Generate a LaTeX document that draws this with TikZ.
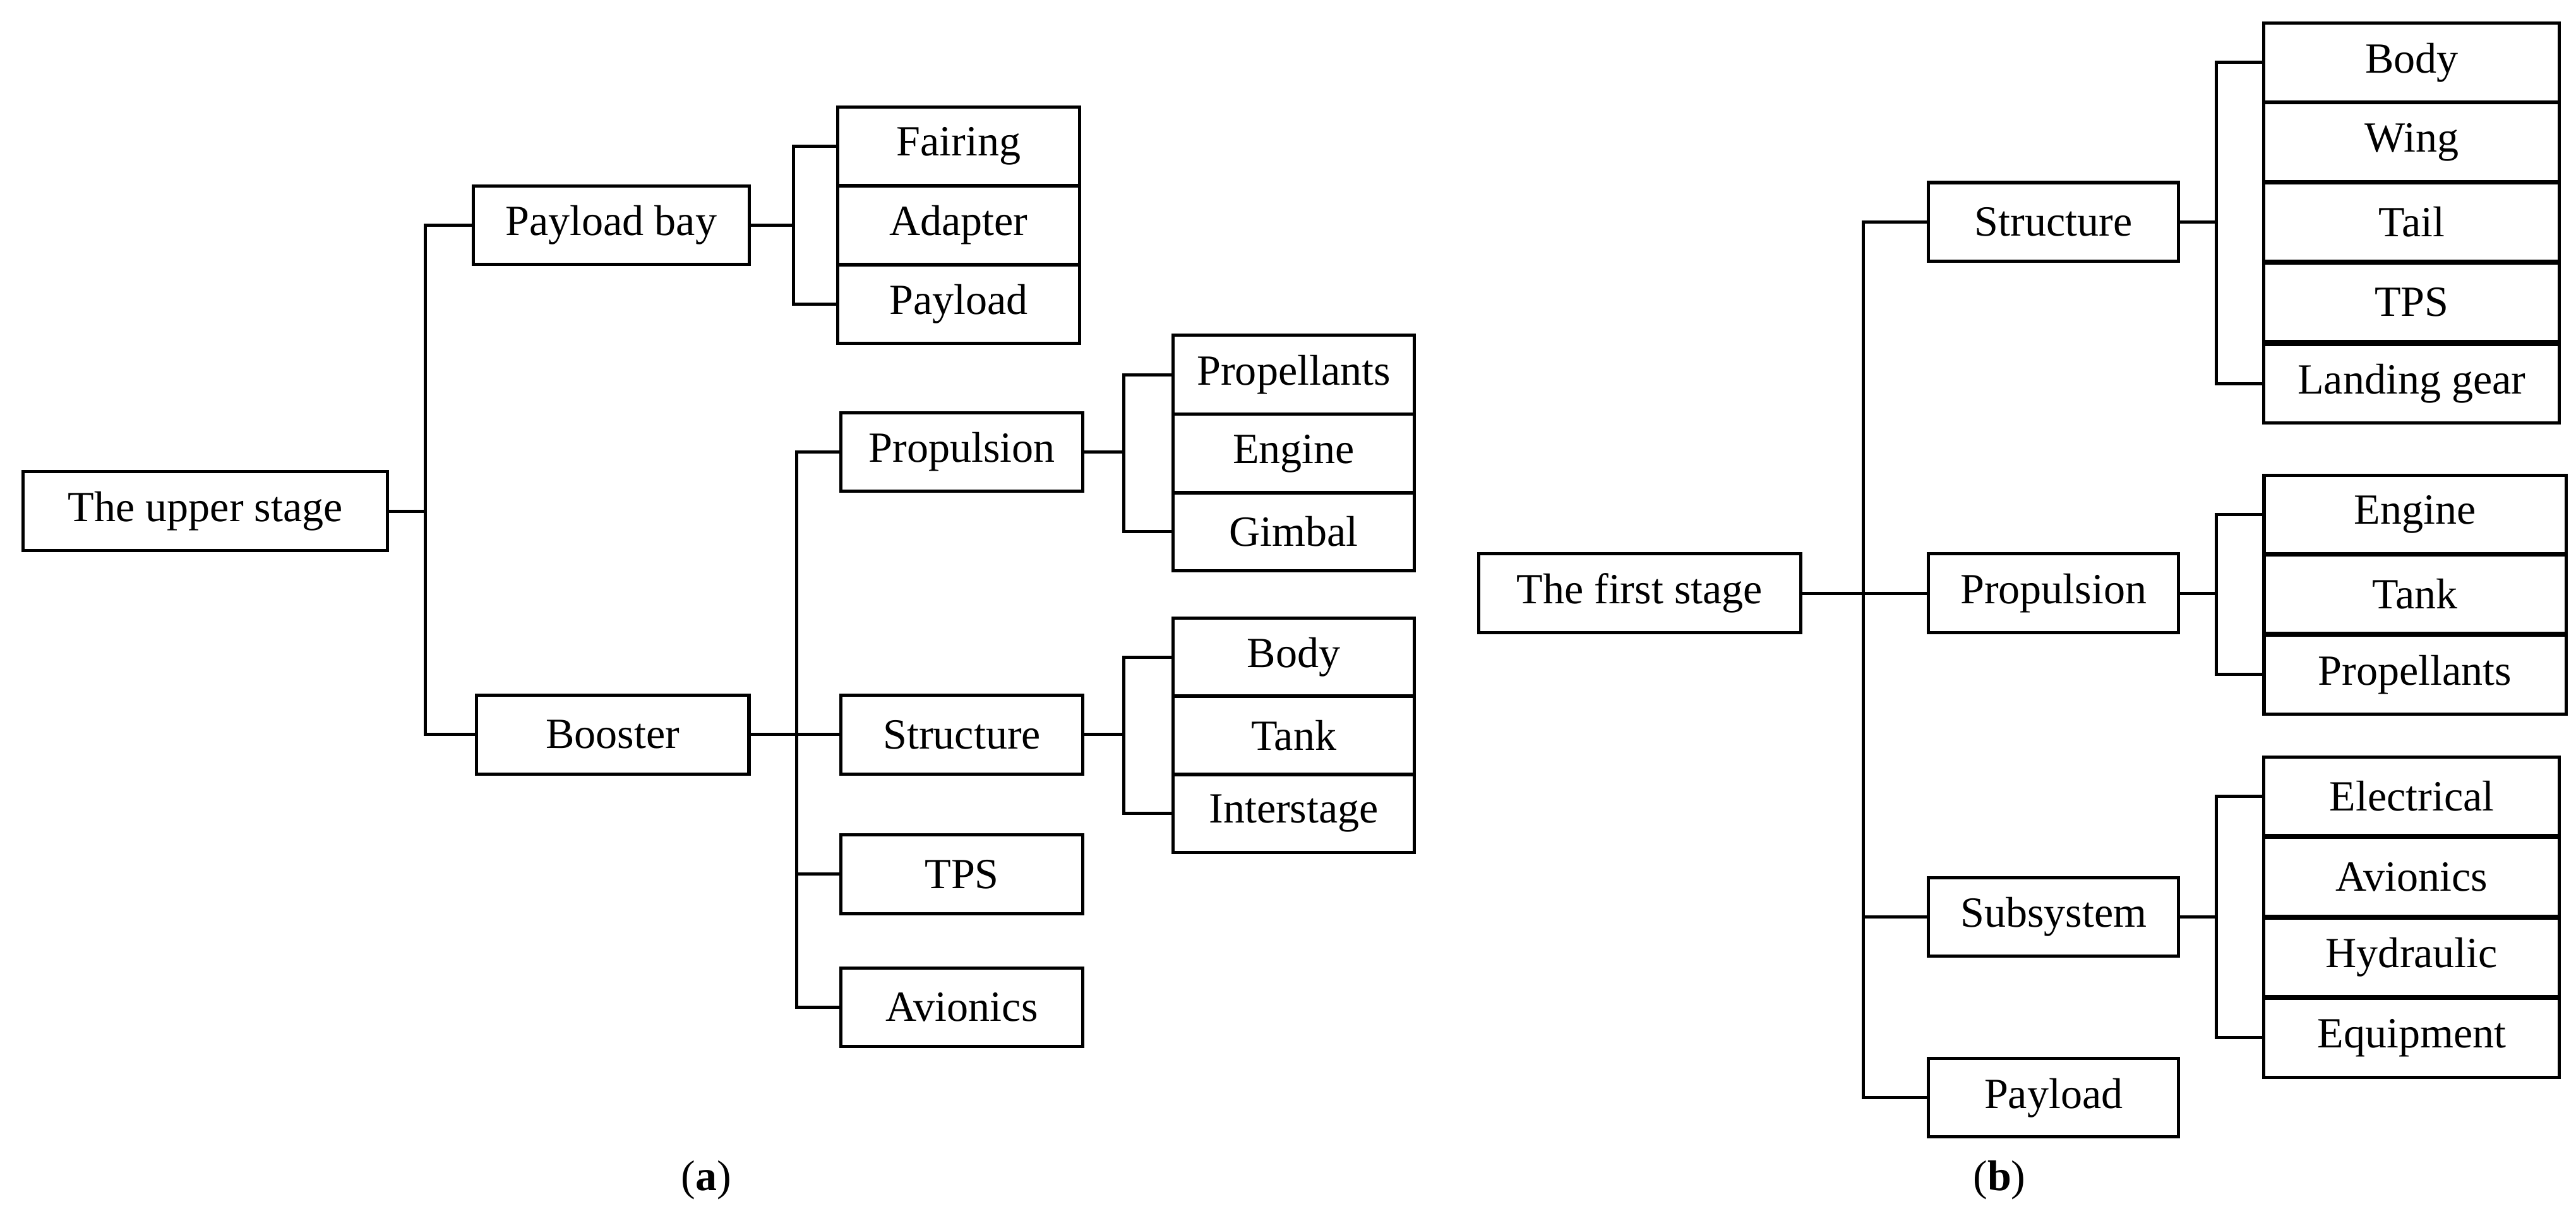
\documentclass[tikz,border=0pt]{standalone}
\usepackage{fontspec}
\setmainfont{Liberation Serif}
\begin{document}
\begin{tikzpicture}[x=0.02551cm,y=-0.02551cm,
  box/.style={draw,line width=1.4pt,minimum height=1.22cm,inner sep=0pt,font=\fontsize{19}{22}\selectfont},
  ln/.style={line width=1.4pt},
  lab/.style={font=\fontsize{19}{22}\selectfont}]
\useasboundingbox (0,0) rectangle (1568,744);
% (a)
\node[box,minimum width=5.66cm] (us) at (125,311) {The upper stage};
\node[box,minimum width=4.29cm] (pb) at (372,137) {Payload bay};
\node[box,minimum width=4.23cm] (bo) at (373,447) {Booster};
\node[box,minimum width=3.75cm] (fa) at (583.5,89) {Fairing};
\node[box,minimum width=3.75cm] (ad) at (583.5,137) {Adapter};
\node[box,minimum width=3.75cm] (pl) at (583.5,185) {Payload};
\node[box,minimum width=3.75cm] (pr) at (585.5,275) {Propulsion};
\node[box,minimum width=3.75cm] (st) at (585.5,447) {Structure};
\node[box,minimum width=3.75cm] (tp) at (585.5,532) {TPS};
\node[box,minimum width=3.75cm] (av) at (585.5,613) {Avionics};
\node[box,minimum width=3.75cm] (pp) at (787.5,228) {Propellants};
\node[box,minimum width=3.75cm] (en) at (787.5,276) {Engine};
\node[box,minimum width=3.75cm] (gi) at (787.5,323.5) {Gimbal};
\node[box,minimum width=3.75cm] (bd) at (787.5,400) {Body};
\node[box,minimum width=3.75cm] (tk) at (787.5,447.5) {Tank};
\node[box,minimum width=3.75cm] (is) at (787.5,495) {Interstage};
\node[lab] (la) at (430,718) {(\textbf{a})};
\coordinate (j1) at (259,311);
\coordinate (j2) at (483,137);
\coordinate (j3) at (485,447);
\coordinate (j4) at (684,275);
\coordinate (j5) at (684,447);
\draw[ln] (us.east) -- (j1);
\draw[ln] (pb.west) -| (j1) |- (bo.west);
\draw[ln] (pb.east) -- (j2);
\draw[ln] (fa.west) -| (j2) |- (pl.west);
\draw[ln] (bo.east) -- (st.west);
\draw[ln] (pr.west) -| (j3) |- (av.west);
\draw[ln] (j3 |- tp.west) -- (tp.west);
\draw[ln] (pr.east) -- (j4);
\draw[ln] (pp.west) -| (j4) |- (gi.west);
\draw[ln] (st.east) -- (j5);
\draw[ln] (bd.west) -| (j5) |- (is.west);
% (b)
\node[box,minimum width=5.0cm] (fs) at (998,361) {The first stage};
\node[box,minimum width=3.88cm] (s2) at (1250,135) {Structure};
\node[box,minimum width=3.88cm] (p2) at (1250,361) {Propulsion};
\node[box,minimum width=3.88cm] (sb) at (1250,558) {Subsystem};
\node[box,minimum width=3.88cm] (y2) at (1250,668) {Payload};
\node[box,minimum width=4.59cm] (b2) at (1468,38) {Body};
\node[box,minimum width=4.59cm] (w2) at (1468,86.5) {Wing};
\node[box,minimum width=4.59cm] (t2) at (1468,135) {Tail};
\node[box,minimum width=4.59cm] (tps2) at (1468,184) {TPS};
\node[box,minimum width=4.59cm] (lg) at (1468,233.5) {Landing gear};
\node[box,minimum width=4.69cm] (e2) at (1470,313) {Engine};
\node[box,minimum width=4.69cm] (k2) at (1470,361.5) {Tank};
\node[box,minimum width=4.69cm] (q2) at (1470,410.5) {Propellants};
\node[box,minimum width=4.59cm] (el) at (1468,484.5) {Electrical};
\node[box,minimum width=4.59cm] (a2) at (1468,533.5) {Avionics};
\node[box,minimum width=4.59cm] (hy) at (1468,582.5) {Hydraulic};
\node[box,minimum width=4.59cm] (eq) at (1468,631.5) {Equipment};
\node[lab] (lb) at (1217,718) {(\textbf{b})};
\coordinate (k1) at (1134,361);
\coordinate (k3) at (1349,135);
\coordinate (k4) at (1349,361);
\coordinate (k5) at (1349,558);
\draw[ln] (fs.east) -- (p2.west);
\draw[ln] (s2.west) -| (k1) |- (y2.west);
\draw[ln] (k1 |- sb.west) -- (sb.west);
\draw[ln] (s2.east) -- (k3);
\draw[ln] (b2.west) -| (k3) |- (lg.west);
\draw[ln] (p2.east) -- (k4);
\draw[ln] (e2.west) -| (k4) |- (q2.west);
\draw[ln] (sb.east) -- (k5);
\draw[ln] (el.west) -| (k5) |- (eq.west);
\end{tikzpicture}
\end{document}
